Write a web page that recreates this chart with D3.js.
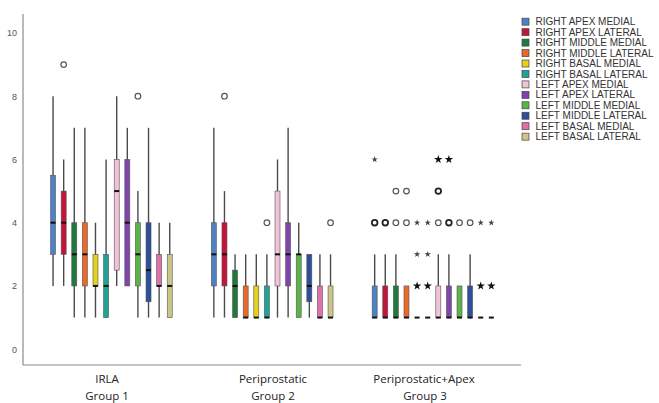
<!DOCTYPE html>
<html>
<head>
<meta charset="utf-8">
<script src="https://cdn.jsdelivr.net/npm/d3@7"></script>
<style>
  body { margin: 0; background: #fff; }
  text { font-family: "Liberation Sans", Arial, sans-serif; }
</style>
</head>
<body>
<div id="chart"></div>
<script>
// groups along the x axis
const groupNames = ["IRLA", "Periprostatic", "Periprostatic+Apex"];
const groupSubs = ["Group 1", "Group 2", "Group 3"];

const series = ["RIGHT APEX MEDIAL", "RIGHT APEX LATERAL", "RIGHT MIDDLE MEDIAL", "RIGHT MIDDLE LATERAL",
                "RIGHT BASAL MEDIAL", "RIGHT BASAL LATERAL", "LEFT APEX MEDIAL", "LEFT APEX LATERAL",
                "LEFT MIDDLE MEDIAL", "LEFT MIDDLE LATERAL", "LEFT BASAL MEDIAL", "LEFT BASAL LATERAL"];
const colors = ["#4f82c4", "#c4143a", "#1f7a3c", "#e8692a", "#e3d21e", "#1fa394",
                "#f2c3d8", "#7e45ac", "#5cb34a", "#2e4f9c", "#e070a8", "#cbc689"];

// min, q1, median, q3, max for each series
const group1 = [[2, 3, 4, 5.5, 8], [2, 3, 4, 5, 6], [1, 2, 3, 4, 7], [1, 2, 3, 4, 7],
                [1, 2, 2, 3, 4], [1, 1, 2, 3, 6], [2, 2.5, 5, 6, 8], [2, 2, 4, 6, 7],
                [1, 2, 3, 4, 5], [1, 1.5, 2.5, 4, 7], [1, 2, 2, 3, 4], [1, 1, 2, 3, 4]];
const group2 = [[1, 2, 3, 4, 7], [1, 2, 3, 4, 5], [1, 1, 2, 2.5, 3], [1, 1, 1, 2, 3],
                [1, 1, 1, 2, 3], [1, 1, 1, 2, 3], [1, 2, 3, 5, 6], [1, 2, 3, 4, 7],
                [1, 1, 3, 3, 4], [1, 1.5, 2, 3, 3], [1, 1, 1, 2, 3], [1, 1, 1, 2, 3]];
const group3 = [[1, 1, 1, 2, 3], [1, 1, 1, 2, 3], [1, 1, 1, 2, 3], [1, 1, 1, 2, 2],
                [1, 1, 1, 1, 1], [1, 1, 1, 1, 1], [1, 1, 1, 2, 3], [1, 1, 1, 2, 3],
                [1, 1, 1, 2, 2], [1, 1, 1, 2, 3], [1, 1, 1, 1, 1], [1, 1, 1, 1, 1]];
const stats = [group1, group2, group3];

// outliers: [group, series, value, kind ("o" circle / "*" extreme), bold]
const outliers = [
  [0, 1, 9, "o", 0], [0, 8, 8, "o", 0],
  [1, 1, 8, "o", 0], [1, 5, 4, "o", 0], [1, 11, 4, "o", 0],
  [2, 0, 4, "o", 1], [2, 0, 6, "*", 0], [2, 1, 4, "o", 1],
  [2, 2, 4, "o", 0], [2, 2, 5, "o", 0], [2, 3, 4, "o", 0], [2, 3, 5, "o", 0],
  [2, 4, 4, "*", 0], [2, 4, 3, "*", 0], [2, 4, 2, "*", 1],
  [2, 5, 4, "*", 0], [2, 5, 3, "*", 0], [2, 5, 2, "*", 1],
  [2, 6, 4, "o", 0], [2, 6, 5, "o", 1], [2, 6, 6, "*", 1],
  [2, 7, 4, "o", 1], [2, 7, 6, "*", 1], [2, 8, 4, "o", 0], [2, 9, 4, "o", 0],
  [2, 10, 4, "*", 0], [2, 10, 2, "*", 1], [2, 11, 4, "*", 0], [2, 11, 2, "*", 1]
];
const yTicks = [0, 2, 4, 6, 8, 10];

const W = 659, H = 403;
const svg = d3.select("#chart").append("svg")
    .attr("width", W).attr("height", H);

const y = d3.scaleLinear().domain([-0.5, 10.6]).range([365, 14]);
const x0 = d3.scaleBand().domain(d3.range(3)).range([31, 513.4]);
const x1 = d3.scaleBand().domain(d3.range(12)).range([0, x0.bandwidth()])
    .paddingInner(0.5).paddingOuter(1.83);
const cx = (g, s) => x0(g) + x1(s) + x1.bandwidth() / 2;
const bw = 5;

// axes frame
svg.append("line").attr("x1", 23).attr("x2", 23).attr("y1", 14).attr("y2", 365)
    .attr("stroke", "#8a8a8a").attr("stroke-width", 1.2);
svg.append("line").attr("x1", 23).attr("x2", 521).attr("y1", 365).attr("y2", 365)
    .attr("stroke", "#8a8a8a").attr("stroke-width", 1.2);

svg.selectAll(".ytick").data(yTicks).enter().append("text")
    .attr("x", 17).attr("y", d => y(d) + 3.5)
    .attr("text-anchor", "end")
    .attr("font-size", 9).attr("fill", "#555")
    .text(d => d);

// group labels
svg.selectAll(".glab").data(groupNames).enter().append("text")
    .attr("x", (d, i) => [107, 273, 424][i]).attr("y", 383)
    .attr("text-anchor", "middle").attr("font-size", 11.5).attr("fill", "#222")
    .style("font-family", "'Open Sans', sans-serif")
    .text(d => d);
svg.selectAll(".gsub").data(groupSubs).enter().append("text")
    .attr("x", (d, i) => [107, 273, 425][i]).attr("y", 400)
    .attr("text-anchor", "middle").attr("font-size", 11.5).attr("fill", "#222")
    .style("font-family", "'Open Sans', sans-serif")
    .text(d => d);

// boxes
const boxes = [];
stats.forEach((g, gi) => g.forEach((d, si) => boxes.push({ g: gi, s: si, v: d })));

const bx = svg.selectAll(".box").data(boxes).enter().append("g");
bx.filter(d => d.v[0] !== d.v[4]).append("line")
    .attr("x1", d => cx(d.g, d.s)).attr("x2", d => cx(d.g, d.s))
    .attr("y1", d => y(d.v[0])).attr("y2", d => y(d.v[4]))
    .attr("stroke", "#4a4a4a").attr("stroke-width", 1.4);
bx.filter(d => d.v[1] !== d.v[3]).append("rect")
    .attr("x", d => cx(d.g, d.s) - bw / 2).attr("width", bw)
    .attr("y", d => y(d.v[3])).attr("height", d => y(d.v[1]) - y(d.v[3]))
    .attr("fill", d => colors[d.s]).attr("stroke", "#555").attr("stroke-width", 0.6);
bx.append("line")
    .attr("x1", d => cx(d.g, d.s) - bw / 2).attr("x2", d => cx(d.g, d.s) + bw / 2)
    .attr("y1", d => y(d.v[2])).attr("y2", d => y(d.v[2]))
    .attr("stroke", "#111").attr("stroke-width", 2);

// outliers
const circ = outliers.filter(d => d[3] === "o");
svg.selectAll(".out").data(circ).enter().append("circle")
    .attr("cx", d => cx(d[0], d[1])).attr("cy", d => y(d[2]))
    .attr("r", 2.8).attr("fill", "none")
    .attr("stroke", d => d[4] ? "#222" : "#555")
    .attr("stroke-width", d => d[4] ? 1.8 : 1.2);
const stars = outliers.filter(d => d[3] === "*");
svg.selectAll(".ext").data(stars).enter().append("path")
    .attr("transform", d => `translate(${cx(d[0], d[1])},${y(d[2])})`)
    .attr("d", d => d3.symbol(d3.symbolStar, d[4] ? 22 : 13)())
    .attr("fill", d => d[4] ? "#111" : "#444");

// legend
const lg = svg.append("g").attr("transform", "translate(522,0)");
const li = lg.selectAll(".li").data(series).enter().append("g")
    .attr("transform", (d, i) => `translate(0,${21.7 + i * 10.45})`);
li.append("rect").attr("x", 0).attr("y", -3.5).attr("width", 7).attr("height", 7)
    .attr("fill", (d, i) => colors[i]).attr("stroke", "#444").attr("stroke-width", 0.7);
li.append("text").attr("x", 13.5).attr("y", 3.6)
    .attr("font-size", 10).attr("fill", "#333")
    .text(d => d);
</script>
</body>
</html>
